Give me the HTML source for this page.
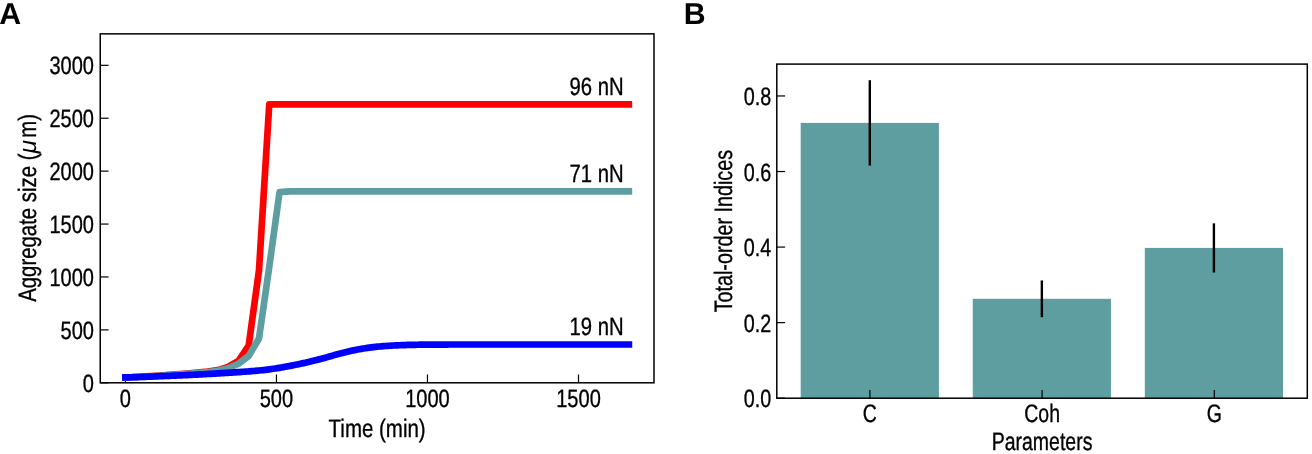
<!DOCTYPE html>
<html lang="en"><head><meta charset="utf-8"><title>Aggregate size and total-order indices</title>
<style>
html,body{margin:0;padding:0;background:#fff;}
svg{display:block;width:1312px;height:454px;}
svg{will-change:transform;}
text{font-family:"Liberation Sans",Arial,Helvetica,sans-serif;fill:#000;text-rendering:geometricPrecision;}
text.n{stroke:#000;stroke-width:0.35px;stroke-linejoin:round;}
</style></head><body>
<svg width="1312" height="454" viewBox="0 0 1312 454">
<rect width="1312" height="454" fill="#fff"/>
<text x="-0.7" y="24.1" font-size="30.3" font-weight="bold">A</text>
<text x="683.8" y="23.8" font-size="30.3" font-weight="bold">B</text>
<g id="panelA">
<clipPath id="clipA"><rect x="100.25" y="33.85" width="553.75" height="348.95"/></clipPath>
<g stroke="#000" stroke-width="1.2">
<line x1="125.40" y1="382.8" x2="125.40" y2="374.5"/>
<line x1="276.44" y1="382.8" x2="276.44" y2="374.5"/>
<line x1="427.47" y1="382.8" x2="427.47" y2="374.5"/>
<line x1="578.50" y1="382.8" x2="578.50" y2="374.5"/>
<line x1="100.25" y1="382.80" x2="108.55" y2="382.80"/>
<line x1="100.25" y1="329.88" x2="108.55" y2="329.88"/>
<line x1="100.25" y1="276.97" x2="108.55" y2="276.97"/>
<line x1="100.25" y1="224.06" x2="108.55" y2="224.06"/>
<line x1="100.25" y1="171.14" x2="108.55" y2="171.14"/>
<line x1="100.25" y1="118.23" x2="108.55" y2="118.23"/>
<line x1="100.25" y1="65.31" x2="108.55" y2="65.31"/>
</g>
<g clip-path="url(#clipA)" fill="none" stroke-width="6.7" stroke-linejoin="round" stroke-linecap="square">
<polyline stroke="#ff0000" points="125.40,377.51 135.67,377.02 145.95,376.47 156.22,375.84 166.50,375.15 176.77,374.36 187.05,373.48 197.32,372.50 207.60,371.47 217.87,370.10 228.15,366.93 238.42,361.00 248.69,345.55 258.97,270.51 269.24,104.47 279.52,104.47 289.79,104.47 300.07,104.47 310.34,104.47 320.62,104.47 330.89,104.47 341.16,104.47 351.44,104.47 361.71,104.47 371.99,104.47 382.26,104.47 392.54,104.47 402.81,104.47 413.09,104.47 423.36,104.47 433.64,104.47 443.91,104.47 454.18,104.47 464.46,104.47 474.73,104.47 485.01,104.47 495.28,104.47 505.56,104.47 515.83,104.47 526.11,104.47 536.38,104.47 546.65,104.47 556.93,104.47 567.20,104.47 577.48,104.47 587.75,104.47 598.03,104.47 608.30,104.47 618.58,104.47 628.85,104.47"/>
<polyline stroke="#5f9ea0" points="125.40,377.51 135.67,377.07 145.95,376.57 156.22,376.01 166.50,375.38 176.77,374.67 187.05,373.88 197.32,373.00 207.60,372.07 217.87,370.84 228.15,368.20 238.42,363.75 248.69,356.03 258.97,338.46 269.24,267.02 279.52,192.20 289.79,191.30 300.07,191.30 310.34,191.30 320.62,191.30 330.89,191.30 341.16,191.30 351.44,191.30 361.71,191.30 371.99,191.30 382.26,191.30 392.54,191.30 402.81,191.30 413.09,191.30 423.36,191.30 433.64,191.30 443.91,191.30 454.18,191.30 464.46,191.30 474.73,191.30 485.01,191.30 495.28,191.30 505.56,191.30 515.83,191.30 526.11,191.30 536.38,191.30 546.65,191.30 556.93,191.30 567.20,191.30 577.48,191.30 587.75,191.30 598.03,191.30 608.30,191.30 618.58,191.30 628.85,191.30"/>
<polyline stroke="#0000ff" points="125.4,377.40 127.4,377.34 129.4,377.28 131.4,377.23 133.4,377.17 135.4,377.11 137.4,377.04 139.4,376.98 141.4,376.92 143.4,376.85 145.4,376.78 147.4,376.71 149.4,376.64 151.4,376.57 153.4,376.49 155.4,376.42 157.4,376.34 159.4,376.26 161.4,376.18 163.4,376.10 165.4,376.02 167.4,375.93 169.4,375.85 171.4,375.76 173.4,375.68 175.4,375.59 177.4,375.50 179.4,375.41 181.4,375.32 183.4,375.23 185.4,375.13 187.4,375.04 189.4,374.94 191.4,374.85 193.4,374.75 195.4,374.66 197.4,374.56 199.4,374.46 201.4,374.35 203.4,374.25 205.4,374.14 207.4,374.03 209.4,373.92 211.4,373.81 213.4,373.70 215.4,373.58 217.4,373.46 219.4,373.34 221.4,373.21 223.4,373.09 225.4,372.96 227.4,372.83 229.4,372.70 231.4,372.57 233.4,372.44 235.4,372.31 237.4,372.18 239.4,372.04 241.4,371.91 243.4,371.77 245.4,371.63 247.4,371.48 249.4,371.33 251.4,371.18 253.4,371.02 255.4,370.85 257.4,370.67 259.4,370.47 261.4,370.27 263.4,370.05 265.4,369.82 267.4,369.58 269.4,369.32 271.4,369.05 273.4,368.76 275.4,368.46 277.4,368.15 279.4,367.82 281.4,367.48 283.4,367.13 285.4,366.76 287.4,366.39 289.4,366.01 291.4,365.62 293.4,365.23 295.4,364.82 297.4,364.41 299.4,364.00 301.4,363.58 303.4,363.15 305.4,362.71 307.4,362.26 309.4,361.80 311.4,361.33 313.4,360.85 315.4,360.35 317.4,359.84 319.4,359.32 321.4,358.78 323.4,358.23 325.4,357.67 327.4,357.10 329.4,356.53 331.4,355.96 333.4,355.39 335.4,354.83 337.4,354.28 339.4,353.73 341.4,353.20 343.4,352.69 345.4,352.19 347.4,351.71 349.4,351.25 351.4,350.80 353.4,350.38 355.4,349.97 357.4,349.58 359.4,349.21 361.4,348.86 363.4,348.52 365.4,348.21 367.4,347.91 369.4,347.63 371.4,347.37 373.4,347.12 375.4,346.90 377.4,346.69 379.4,346.50 381.4,346.32 383.4,346.16 385.4,346.00 387.4,345.87 389.4,345.74 391.4,345.62 393.4,345.51 395.4,345.41 397.4,345.32 399.4,345.24 401.4,345.16 403.4,345.09 405.4,345.03 407.4,344.97 409.4,344.91 411.4,344.87 413.4,344.82 415.4,344.78 417.4,344.75 419.4,344.72 421.4,344.69 423.4,344.67 425.4,344.65 427.4,344.63 429.4,344.61 431.4,344.60 433.4,344.58 435.4,344.57 437.4,344.56 439.4,344.55 441.4,344.54 443.4,344.54 445.4,344.53 447.4,344.53 449.4,344.52 451.4,344.52 453.4,344.51 455.4,344.51 457.4,344.50 459.4,344.50 461.4,344.50 463.4,344.50 465.4,344.49 467.4,344.49 469.4,344.49 471.4,344.49 473.4,344.49 475.4,344.49 477.4,344.49 479.4,344.49 481.4,344.49 483.4,344.49 485.4,344.49 487.4,344.49 489.4,344.49 491.4,344.49 493.4,344.49 495.4,344.49 497.4,344.49 499.4,344.49 501.4,344.49 503.4,344.49 505.4,344.49 507.4,344.49 509.4,344.49 511.4,344.49 513.4,344.49 515.4,344.49 517.4,344.49 519.4,344.49 521.4,344.49 523.4,344.49 525.4,344.49 527.4,344.49 529.4,344.49 531.4,344.49 533.4,344.49 535.4,344.49 537.4,344.49 539.4,344.49 541.4,344.49 543.4,344.49 545.4,344.49 547.4,344.49 549.4,344.49 551.4,344.49 553.4,344.49 555.4,344.49 557.4,344.49 559.4,344.49 561.4,344.49 563.4,344.49 565.4,344.49 567.4,344.49 569.4,344.49 571.4,344.49 573.4,344.49 575.4,344.49 577.4,344.49 579.4,344.49 581.4,344.49 583.4,344.49 585.4,344.49 587.4,344.49 589.4,344.49 591.4,344.49 593.4,344.49 595.4,344.49 597.4,344.49 599.4,344.49 601.4,344.49 603.4,344.49 605.4,344.49 607.4,344.49 609.4,344.49 611.4,344.49 613.4,344.49 615.4,344.49 617.4,344.49 619.4,344.49 621.4,344.49 623.4,344.49 625.4,344.49 628.9,344.49"/>
</g>
<rect x="100.25" y="33.85" width="553.75" height="348.95" fill="none" stroke="#000" stroke-width="1.5"/>
<text class="n" transform="translate(125.40,406.55) scale(0.795,1)" font-size="25.2" text-anchor="middle">0</text>
<text class="n" transform="translate(276.44,406.55) scale(0.795,1)" font-size="25.2" text-anchor="middle">500</text>
<text class="n" transform="translate(427.47,406.55) scale(0.795,1)" font-size="25.2" text-anchor="middle">1000</text>
<text class="n" transform="translate(578.50,406.55) scale(0.795,1)" font-size="25.2" text-anchor="middle">1500</text>
<text class="n" transform="translate(94.00,391.90) scale(0.795,1)" font-size="25.2" text-anchor="end">0</text>
<text class="n" transform="translate(94.00,338.99) scale(0.795,1)" font-size="25.2" text-anchor="end">500</text>
<text class="n" transform="translate(94.00,286.07) scale(0.795,1)" font-size="25.2" text-anchor="end">1000</text>
<text class="n" transform="translate(94.00,233.16) scale(0.795,1)" font-size="25.2" text-anchor="end">1500</text>
<text class="n" transform="translate(94.00,180.24) scale(0.795,1)" font-size="25.2" text-anchor="end">2000</text>
<text class="n" transform="translate(94.00,127.33) scale(0.795,1)" font-size="25.2" text-anchor="end">2500</text>
<text class="n" transform="translate(94.00,74.41) scale(0.795,1)" font-size="25.2" text-anchor="end">3000</text>
<text class="n" transform="translate(377.12,436.80) scale(0.813,1)" font-size="25.2" text-anchor="middle">Time (min)</text>
<g transform="translate(35.8,207.93) rotate(-90)">
<text class="n" transform="translate(-93.86,0) scale(0.808,1)" font-size="25.2">Aggregate size (</text>
<text transform="translate(54.41,0)" font-size="24.7" font-family="DejaVu Sans,sans-serif" font-style="italic">μ</text>
<text class="n" transform="translate(70.12,0) scale(0.808,1)" font-size="25.2">m)</text>
</g>
<text class="n" transform="translate(623.60,95.30) scale(0.806,1)" font-size="25.2" text-anchor="end">96 nN</text>
<text class="n" transform="translate(623.60,182.00) scale(0.806,1)" font-size="25.2" text-anchor="end">71 nN</text>
<text class="n" transform="translate(623.60,334.80) scale(0.806,1)" font-size="25.2" text-anchor="end">19 nN</text>
</g>
<g id="panelB">
<rect x="800.70" y="122.90" width="138.20" height="275.30" fill="#5f9ea0"/>
<rect x="972.75" y="298.80" width="138.20" height="99.40" fill="#5f9ea0"/>
<rect x="1144.80" y="247.91" width="138.20" height="150.29" fill="#5f9ea0"/>
<line x1="869.80" y1="80.21" x2="869.80" y2="165.59" stroke="#000" stroke-width="2.4"/>
<line x1="1041.85" y1="280.44" x2="1041.85" y2="317.16" stroke="#000" stroke-width="2.4"/>
<line x1="1213.90" y1="223.32" x2="1213.90" y2="272.51" stroke="#000" stroke-width="2.4"/>
<g stroke="#000" stroke-width="1.2">
<line x1="869.90" y1="398.2" x2="869.90" y2="389.9"/>
<line x1="1042.10" y1="398.2" x2="1042.10" y2="389.9"/>
<line x1="1214.30" y1="398.2" x2="1214.30" y2="389.9"/>
<line x1="776.8" y1="398.20" x2="785.0999999999999" y2="398.20"/>
<line x1="776.8" y1="322.64" x2="785.0999999999999" y2="322.64"/>
<line x1="776.8" y1="247.08" x2="785.0999999999999" y2="247.08"/>
<line x1="776.8" y1="171.52" x2="785.0999999999999" y2="171.52"/>
<line x1="776.8" y1="95.96" x2="785.0999999999999" y2="95.96"/>
</g>
<rect x="776.8" y="64.1" width="530.5" height="334.1" fill="none" stroke="#000" stroke-width="1.5"/>
<text class="n" transform="translate(771.20,407.20) scale(0.784,1)" font-size="25.2" text-anchor="end">0.0</text>
<text class="n" transform="translate(771.20,331.64) scale(0.784,1)" font-size="25.2" text-anchor="end">0.2</text>
<text class="n" transform="translate(771.20,256.08) scale(0.784,1)" font-size="25.2" text-anchor="end">0.4</text>
<text class="n" transform="translate(771.20,180.52) scale(0.784,1)" font-size="25.2" text-anchor="end">0.6</text>
<text class="n" transform="translate(771.20,104.96) scale(0.784,1)" font-size="25.2" text-anchor="end">0.8</text>
<text class="n" transform="translate(869.90,421.65) scale(0.773,1)" font-size="25.2" text-anchor="middle">C</text>
<text class="n" transform="translate(1042.10,421.65) scale(0.773,1)" font-size="25.2" text-anchor="middle">Coh</text>
<text class="n" transform="translate(1214.30,421.65) scale(0.773,1)" font-size="25.2" text-anchor="middle">G</text>
<text class="n" transform="translate(1042.05,449.60) scale(0.773,1)" font-size="25.2" text-anchor="middle">Parameters</text>
<text class="n" transform="translate(731.90,231.15) rotate(-90) scale(0.784,1)" font-size="25.2" text-anchor="middle">Total-order Indices</text>
</g>
</svg></body></html>
